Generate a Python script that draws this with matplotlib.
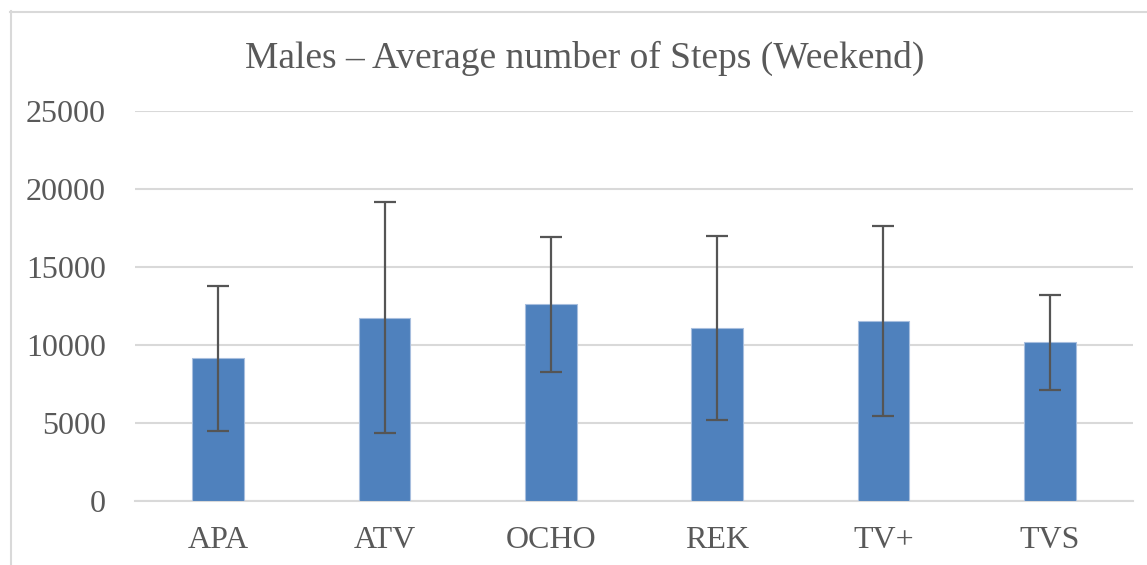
#importing required modules
import matplotlib.pyplot as plt
from matplotlib.lines import Line2D

# data
groups = ['APA', 'ATV', 'OCHO', 'REK', 'TV+', 'TVS']
mean_steps = [9150, 11760, 12600, 11090, 11560, 10180]
err_steps = [4650, 7400, 4350, 5870, 6100, 3050]
y_ticks = [0, 5000, 10000, 15000, 20000, 25000]

txt = '#595959'
grid_col = '#D9D9D9'

plt.rcParams['font.family'] = ['Liberation Serif', 'DejaVu Serif']

fig = plt.figure(figsize=(11.47, 5.65), dpi=100)
ax = fig.add_axes([135/1147, 1 - 501/565, (1133-135)/1147, (501-111)/565])

x = range(len(groups))
ax.bar(x, mean_steps, width=0.31, color='#4F81BD', edgecolor='#A7BEDE',
       linewidth=0.8, zorder=3)
ax.errorbar(x, mean_steps, yerr=err_steps, fmt='none', ecolor='#555555',
            elinewidth=1.6, capsize=8, capthick=1.6, zorder=4)

ax.set_ylim(0, 25000)
ax.set_xlim(-0.5, len(groups) - 0.5)
ax.set_yticks(y_ticks)
ax.set_xticks(list(x))
ax.set_xticklabels(groups)
ax.yaxis.grid(True, color=grid_col, linewidth=1.5, zorder=0)
ax.tick_params(axis='both', length=0, labelsize=23, labelcolor=txt)
ax.tick_params(axis='y', pad=21)
ax.tick_params(axis='x', pad=18)
for s in ('top', 'right', 'left'):
    ax.spines[s].set_visible(False)
ax.spines['bottom'].set_color(grid_col)
ax.spines['bottom'].set_linewidth(1.5)

fig.text(585/1147, 1 - 58/565, 'Males \u2013 Average number of Steps (Weekend)',
         ha='center', va='center', fontsize=27, color=txt)

# chart frame (left and top edges visible)
fig.add_artist(Line2D([10.5/1147, 10.5/1147], [0, 1 - 11/565],
                      color=grid_col, linewidth=1.5))
fig.add_artist(Line2D([10/1147, 1], [1 - 11.5/565, 1 - 11.5/565],
                      color=grid_col, linewidth=1.5))

plt.savefig('out.png', dpi=100)
